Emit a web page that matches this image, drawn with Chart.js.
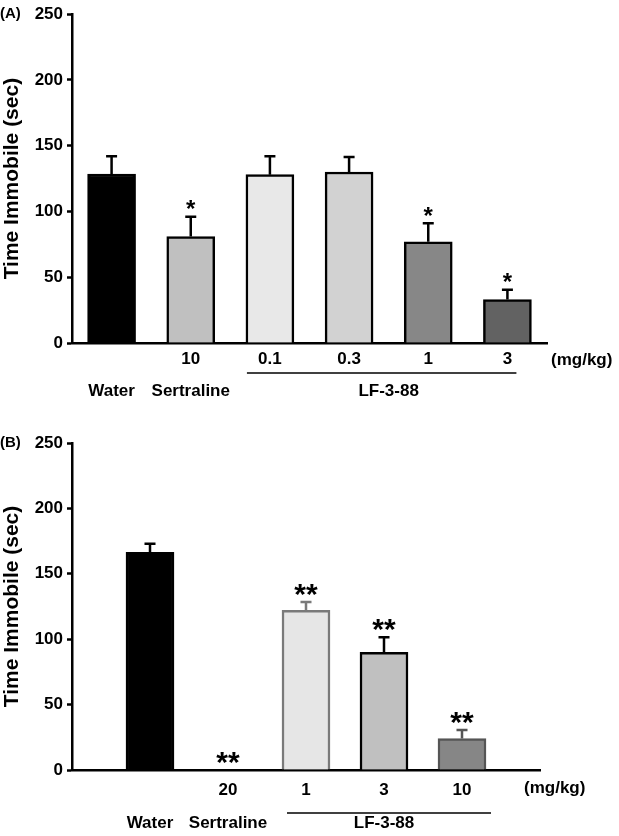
<!DOCTYPE html>
<html>
<head>
<meta charset="utf-8">
<script src="https://cdn.jsdelivr.net/npm/chart.js@4.4.1/dist/chart.umd.min.js"></script>
<style>
    html, body { margin: 0; padding: 0; background: #fff; }
    canvas { display: block; }
</style>
</head>
<body>
<canvas id="chartA" width="619" height="418"></canvas>
<canvas id="chartB" width="619" height="418"></canvas>
<script>
// ---- panel A data ----
const groupsA = ['Water', 'Sertraline', 'LF-3-88', 'LF-3-88', 'LF-3-88', 'LF-3-88']
const dosesA = ['', '10', '0.1', '0.3', '1', '3']
const meansA = [128.5, 81, 128, 130, 77, 33]
const semA = [13.5, 15, 14, 11.5, 14, 7.5]
const sigA = ['', '*', '', '', '*', '*']

// ---- panel B data ----
const groupsB = ['Water', 'Sertraline', 'LF-3-88', 'LF-3-88', 'LF-3-88']
const dosesB = ['', '20', '1', '3', '10']
const meansB = [166.5, 0, 122, 90, 24]
const semB = [6.5, 0, 6.5, 11.5, 6.5]
const sigB = ['', '**', '**', '**', '**']

const yTicks = [0, 50, 100, 150, 200, 250]
const unitLabel = '(mg/kg)'
const yTitle = 'Time Immobile (sec)'

const FONT = '"Liberation Sans", Arial, Helvetica, sans-serif'
Chart.defaults.font.family = FONT
Chart.defaults.font.weight = 'bold'
Chart.defaults.font.size = 17
Chart.defaults.color = '#000'

// error bars, stars, group labels, panel letter
const annotate = {
    id: 'annotate',
    afterDatasetsDraw(chart, args, o) {
        const ctx = chart.ctx
        const y = chart.scales.y
        const area = chart.chartArea
        const meta = chart.getDatasetMeta(0)
        ctx.save()
        o.means.forEach((m, i) => {
            const bar = meta.data[i + o.shift]
            const cx = bar.x
            const yTop = y.getPixelForValue(m + o.sem[i])
            if (o.sem[i] > 0) {
                ctx.strokeStyle = o.errColors[i]
                ctx.lineWidth = 2.5
                ctx.beginPath()
                ctx.moveTo(cx, y.getPixelForValue(m))
                ctx.lineTo(cx, yTop)
                ctx.moveTo(cx - 5.5, yTop)
                ctx.lineTo(cx + 5.5, yTop)
                ctx.stroke()
            }
            if (o.sig[i]) {
                ctx.fillStyle = '#000'
                ctx.font = 'bold ' + o.starSize + 'px ' + FONT
                ctx.textAlign = 'center'
                ctx.textBaseline = 'alphabetic'
                // centre the glyph itself on the wanted spot
                const tm = ctx.measureText(o.sig[i])
                const mid = (tm.actualBoundingBoxAscent - tm.actualBoundingBoxDescent) / 2
                ctx.fillText(o.sig[i], cx, yTop - o.starGap + mid)
            }
        })

        // group names under the bars
        ctx.font = 'bold 17px ' + FONT
        ctx.fillStyle = '#000'
        ctx.textAlign = 'center'
        ctx.textBaseline = 'middle'
        let i = 0
        while (i < o.groups.length) {
            let j = i
            while (j + 1 < o.groups.length && o.groups[j + 1] === o.groups[i]) j++
            const x0 = meta.data[i + o.shift].x
            const x1 = meta.data[j + o.shift].x
            ctx.fillText(o.groups[i], (x0 + x1) / 2, area.bottom + o.groupY)
            if (j > i) {
                ctx.strokeStyle = '#000'
                ctx.lineWidth = 1.5
                ctx.beginPath()
                ctx.moveTo(x0 + o.lineExt[0], area.bottom + o.lineY)
                ctx.lineTo(x1 + o.lineExt[1], area.bottom + o.lineY)
                ctx.stroke()
            }
            i = j + 1
        }

        // unit label
        ctx.textAlign = 'left'
        ctx.fillText(unitLabel, area.right + o.unitX, area.bottom + o.unitY)

        // panel letter
        ctx.font = 'bold 15px ' + FONT
        ctx.fillText(o.letter, 0, area.top)
        ctx.restore()
    }
}

const makeChart = (id, labels, values, style, ann) => {
    return new Chart(document.getElementById(id), {
        type: 'bar',
        data: {
            labels: labels,
            datasets: [{
                data: values,
                backgroundColor: style.fill,
                borderColor: style.border,
                borderWidth: 2.5,
                barThickness: 48,
            }]
        },
        options: {
            responsive: false,
            devicePixelRatio: 1,
            animation: false,
            events: [],
            layout: { padding: { top: style.top, right: style.right, left: 0, bottom: 0 } },
            plugins: {
                legend: { display: false },
                tooltip: { enabled: false },
                annotate: ann
            },
            scales: {
                x: {
                    offset: style.offset,
                    grid: { display: false, drawTicks: false },
                    border: { display: true, color: '#000', width: 2.5 },
                    ticks: { autoSkip: false, maxRotation: 0, padding: style.tickPad, color: '#000' },
                    afterFit: (scale) => { scale.height = style.xHeight }
                },
                y: {
                    min: 0,
                    max: 250,
                    afterBuildTicks: (scale) => { scale.ticks = yTicks.map(v => ({ value: v })) },
                    grid: { display: true, drawOnChartArea: false, drawTicks: true, tickLength: 5, tickWidth: 2.5, tickColor: '#000' },
                    border: { display: true, color: '#000', width: 2.5 },
                    ticks: { padding: 4, color: '#000' },
                    title: { display: true, text: yTitle, font: { size: 21, weight: 'bold' }, padding: 0, color: '#000' },
                    afterFit: (scale) => { scale.width = 72 }
                }
            }
        },
        plugins: [annotate]
    })
}

// panel A: plain category axis
makeChart('chartA', dosesA, meansA, {
    fill: ['#000000', '#c0c0c0', '#e8e8e8', '#d2d2d2', '#878787', '#626262'],
    border: ['#000', '#000', '#000', '#000', '#000', '#000'],
    top: 11, right: 72, xHeight: 75, tickPad: 6, offset: true
}, {
    letter: '(A)', means: meansA, sem: semA, sig: sigA, groups: groupsA, shift: 0,
    errColors: ['#000', '#000', '#000', '#000', '#000', '#000'],
    starSize: 24, starGap: 12,
    groupY: 48, lineY: 30, lineExt: [-23, 9], unitX: 4, unitY: 17
})

// panel B: one empty slot on each side, bars sit on the slot lines
makeChart('chartB', ['', ...dosesB, ''], [null, ...meansB, null], {
    fill: ['#000', '#000000', '#ffffff', '#e6e6e6', '#c0c0c0', '#868686', '#000'],
    border: ['#000', '#000', '#000', '#7a7a7a', '#000', '#555555', '#000'],
    top: 25, right: 79, xHeight: 66, tickPad: 10, offset: false
}, {
    letter: '(B)', means: meansB, sem: semB, sig: sigB, groups: groupsB, shift: 1,
    errColors: ['#000', '#000', '#7a7a7a', '#000', '#555555'],
    starSize: 30, starGap: 12,
    groupY: 53, lineY: 43, lineExt: [-19, 29], unitX: -16, unitY: 18
})
</script>
</body>
</html>
